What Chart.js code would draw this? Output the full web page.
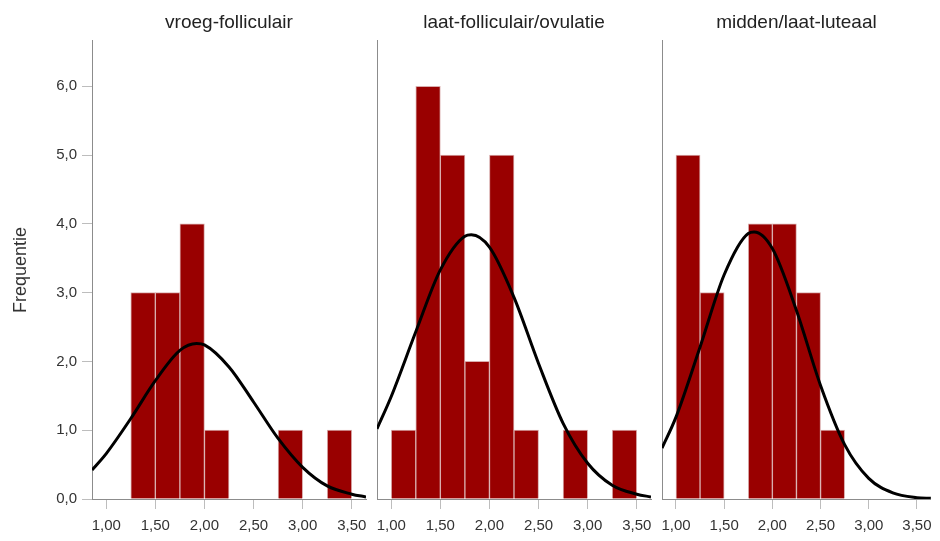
<!DOCTYPE html>
<html>
<head>
<meta charset="utf-8">
<script src="https://cdn.jsdelivr.net/npm/chart.js@4"></script>
<style>
body{margin:0;background:#fff}
#wrap{position:relative;width:940px;height:541px}
canvas{position:absolute;left:0;top:0}
</style>
</head>
<body>
<div id="wrap">
<canvas id="c1" width="940" height="541"></canvas>
<canvas id="c2" width="940" height="541"></canvas>
<canvas id="c3" width="940" height="541"></canvas>
</div>
<script>

// histogram bins (left edge, width 0.25)
const binStart = [1.00, 1.25, 1.50, 1.75, 2.00, 2.25, 2.50, 2.75, 3.00, 3.25]
const binWidth = 0.25

const titles = ["vroeg-folliculair", "laat-folliculair/ovulatie", "midden/laat-luteaal"]

const counts1 = [0, 3, 3, 4, 1, 0, 0, 1, 0, 1]
const counts2 = [1, 6, 5, 2, 5, 1, 0, 1, 0, 1]
const counts3 = [5, 3, 0, 4, 4, 3, 1, 0, 0, 0]

// normal curve
const curveX1 = [0.855, 1.0, 1.25, 1.5, 1.75, 1.92, 2.0, 2.25, 2.5, 2.75, 3.0, 3.25, 3.5, 3.645]
const curveY1 = [0.42, 0.66, 1.17, 1.72, 2.16, 2.26, 2.24, 1.92, 1.41, 0.88, 0.46, 0.19, 0.07, 0.03]
const curveX2 = [0.855, 1.0, 1.25, 1.5, 1.75, 1.815, 2.0, 2.25, 2.5, 2.75, 3.0, 3.25, 3.5, 3.645]
const curveY2 = [1.02, 1.49, 2.43, 3.33, 3.82, 3.84, 3.66, 2.93, 1.97, 1.10, 0.52, 0.20, 0.07, 0.03]
const curveX3 = [0.855, 1.0, 1.25, 1.5, 1.75, 1.81, 2.0, 2.25, 2.5, 2.75, 3.0, 3.25, 3.5, 3.645]
const curveY3 = [0.74, 1.19, 2.21, 3.26, 3.86, 3.88, 3.64, 2.74, 1.65, 0.79, 0.30, 0.09, 0.02, 0.01]

const xTicks = [1.0, 1.5, 2.0, 2.5, 3.0, 3.5]
const yTicks = [0, 1, 2, 3, 4, 5, 6]
const xMin = 0.855, xMax = 3.645
const yMax = 6.66

Chart.defaults.font.family = "'Liberation Sans', Arial, sans-serif"
Chart.defaults.color = "#333"

function makePanel(id, title, counts, cx, cy, first, padL, padR){

const bars = binStart.map((b, i) => ({x: b + binWidth / 2, y: counts[i] || null}))
const curve = cx.map((x, i) => ({x: x, y: cy[i]}))

new Chart(document.getElementById(id), {
type: "bar",
data: {
datasets: [{
type: "line",
data: curve,
borderColor: "#000",
borderWidth: 3,
pointRadius: 0,
cubicInterpolationMode: "monotone",
order: 0
},{
type: "bar",
data: bars,
backgroundColor: "#990000",
borderColor: "#d9adad",
borderWidth: 1,
barPercentage: 1,
categoryPercentage: 1,
order: 1
}]
},
options: {
responsive: false,
animation: false,
layout: {padding: {left: padL, right: padR, top: 0, bottom: 0}},
plugins: {
legend: {display: false},
tooltip: {enabled: false},
title: {
display: true,
text: title,
fullSize: false,
color: "#222",
font: {size: 19, weight: "normal"},
padding: {top: 11, bottom: 7}
}
},
scales: {
x: {
type: "linear",
min: xMin,
max: xMax,
offset: false,
afterBuildTicks: s => { s.ticks = xTicks.map(v => ({value: v})) },
afterFit: s => { s.height = 42 },
ticks: {
font: {size: 15},
color: "#333",
padding: 8,
maxRotation: 0,
callback: v => v.toFixed(2).replace(".", ",")
},
grid: {offset: false, drawOnChartArea: false, drawTicks: true, tickLength: 10, color: "#bdbdbd"},
border: {color: "#8c8c8c", width: 1}
},
y: {
min: 0,
max: yMax,
afterBuildTicks: s => { s.ticks = yTicks.map(v => ({value: v})) },
afterFit: s => { s.width = first ? 92 : 0 },
ticks: {
display: first,
font: {size: 15},
color: "#333",
padding: 5,
callback: v => v.toFixed(1).replace(".", ",")
},
grid: {drawOnChartArea: false, drawTicks: first, tickLength: 10, color: "#bdbdbd"},
border: {color: "#8c8c8c", width: 1},
title: {
display: first,
text: "Frequentie",
color: "#333",
font: {size: 18},
padding: {top: 10, bottom: 0}
}
}
}
}
})

}

makePanel("c1", titles[0], counts1, curveX1, curveY1, true, 0, 574)
makePanel("c2", titles[1], counts2, curveX2, curveY2, false, 377, 289)
makePanel("c3", titles[2], counts3, curveX3, curveY3, false, 662, 4)

</script>
</body>
</html>
